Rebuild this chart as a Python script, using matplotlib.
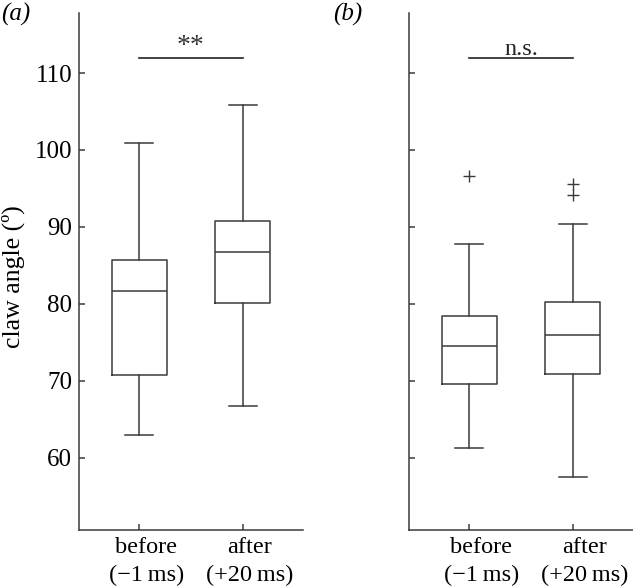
import numpy as np
import matplotlib
matplotlib.use("Agg")
import matplotlib.pyplot as plt
import matplotlib.transforms as mtransforms

plt.rcParams['font.family'] = ['Liberation Serif', 'DejaVu Serif']

# categorias
labels = ['before\n(\u22121\u2009ms)', 'after\n(+20\u2009ms)']

# painel (a): whislo, q1, med, q3, whishi
a_lo = [62.9, 66.7]
a_q1 = [70.7, 80.1]
a_med = [81.7, 86.8]
a_q3 = [85.7, 90.7]
a_hi = [100.9, 105.9]
a_fliers = [[], []]

# painel (b)
b_lo = [61.3, 57.5]
b_q1 = [69.6, 70.9]
b_med = [74.5, 75.9]
b_q3 = [78.4, 80.2]
b_hi = [87.8, 90.4]
b_fliers = [[96.6], [95.6, 94.2]]

sig_y = 111.9
sig_text = ['**', 'n.s.']
yticks = [60, 70, 80, 90, 100, 110]

cor = '#3a3a3a'
lw = 1.1


def stats(lo, q1, med, q3, hi, fl):
    return [dict(whislo=lo[i], q1=q1[i], med=med[i], q3=q3[i], whishi=hi[i],
                 fliers=fl[i]) for i in range(len(lo))]


fig = plt.figure(figsize=(6.33, 5.88), dpi=100)
axA = fig.add_axes([0.1248, 0.0986, 0.3539, 0.8793])
axB = fig.add_axes([0.6461, 0.0986, 0.3539, 0.8793])

dados = [stats(a_lo, a_q1, a_med, a_q3, a_hi, a_fliers),
         stats(b_lo, b_q1, b_med, b_q3, b_hi, b_fliers)]
desloc = [7, 12]  # deslocamento dos rotulos x (px)

for k, ax in enumerate([axA, axB]):
    ax.bxp(dados[k], positions=[1, 2], widths=0.53, showfliers=True,
           boxprops=dict(color=cor, linewidth=lw),
           medianprops=dict(color=cor, linewidth=lw),
           whiskerprops=dict(color=cor, linewidth=lw),
           capprops=dict(color=cor, linewidth=lw),
           flierprops=dict(marker='+', markeredgecolor=cor, markersize=8,
                           markeredgewidth=1.0, linestyle='none'))
    ax.set_xlim(0.42, 2.58)
    ax.set_ylim(50.6, 117.8)
    ax.set_yticks(yticks)
    ax.set_xticks([1, 2])
    ax.set_xticklabels(labels, fontsize=17.5, linespacing=1.4)
    ax.tick_params(direction='in', length=4, width=lw, color=cor, pad=5)
    ax.tick_params(axis='y', labelsize=18)
    ax.spines['top'].set_visible(False)
    ax.spines['right'].set_visible(False)
    for s in ['left', 'bottom']:
        ax.spines[s].set_linewidth(lw)
        ax.spines[s].set_color(cor)
    off = mtransforms.ScaledTranslation(desloc[k] / 100, 0, fig.dpi_scale_trans)
    for t in ax.get_xticklabels():
        t.set_transform(t.get_transform() + off)
    # linha de significancia
    ax.plot([1, 2], [sig_y, sig_y], color='#222222', linewidth=1.2)

axA.text(1.5, sig_y + 1.6, sig_text[0], ha='center', va='center',
         fontsize=20, color='#333333')
axB.text(1.5, sig_y + 0.4, sig_text[1], ha='center', va='baseline',
         fontsize=17.5, color='#222222')

axB.set_yticklabels([])
axA.set_ylabel('claw angle (\u00ba)', fontsize=18.5)
axA.yaxis.set_label_coords(-0.24, 0.491)

fig.text(0.002, 0.975, '(a)', style='italic', fontsize=18, va='center')
fig.text(0.527, 0.975, '(b)', style='italic', fontsize=18, va='center')

fig.savefig('out.png', dpi=100)
